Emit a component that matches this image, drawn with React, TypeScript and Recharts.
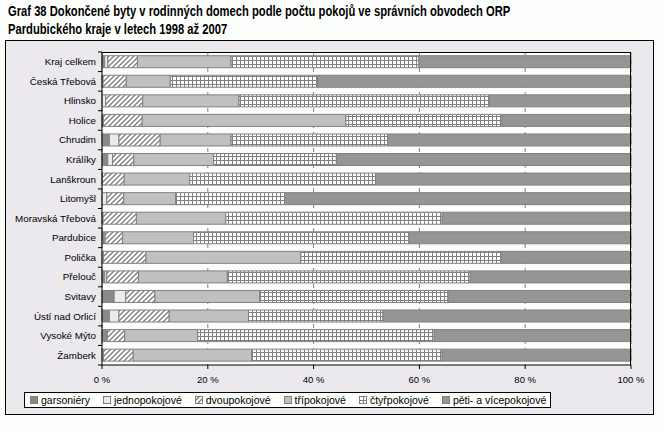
import { BarChart, Bar, XAxis, YAxis, CartesianGrid } from 'recharts'

const categories = [
  'Kraj celkem', 'Česká Třebová', 'Hlinsko', 'Holice', 'Chrudim', 'Králíky',
  'Lanškroun', 'Litomyšl', 'Moravská Třebová', 'Pardubice', 'Polička',
  'Přelouč', 'Svitavy', 'Ústí nad Orlicí', 'Vysoké Mýto', 'Žamberk',
]

// podíly v %
const garsoniery = [0.5, 0, 0, 0.2, 1.4, 1.1, 0.1, 0, 0.1, 0.4, 0, 0.5, 2.3, 1.4, 0.9, 0]
const jednopokojove = [0.6, 0.2, 0.7, 0.1, 1.8, 0.9, 0, 0.9, 0.1, 0.2, 0.3, 0.4, 2.2, 1.8, 0.1, 0.3]
const dvoupokojove = [5.6, 4.4, 7.0, 7.3, 7.8, 4.0, 4.1, 3.2, 6.3, 3.3, 8.0, 6.0, 5.5, 9.5, 3.3, 5.6]
const tripokojove = [17.7, 8.3, 18.2, 38.5, 13.4, 15.1, 12.4, 9.8, 16.9, 13.4, 29.3, 16.8, 19.8, 15.0, 13.8, 22.4]
const ctyrpokojove = [35.5, 27.8, 47.3, 29.5, 29.6, 23.2, 35.1, 20.6, 40.9, 40.7, 38.0, 45.9, 35.6, 25.4, 44.7, 36.0]
const petiVice = [40.1, 59.3, 26.8, 24.4, 46.0, 55.7, 48.3, 65.5, 35.7, 42.0, 24.4, 30.4, 34.6, 46.9, 37.2, 35.7]

const xTicks = [0, 20, 40, 60, 80, 100]

const series = [
  { key: 'g', name: 'garsoniéry', values: garsoniery, fill: '#898989' },
  { key: 'j', name: 'jednopokojové', values: jednopokojove, fill: '#ECEAF0' },
  { key: 'd', name: 'dvoupokojové', values: dvoupokojove, fill: 'url(#hatch)' },
  { key: 't', name: 'třípokojové', values: tripokojove, fill: '#C0C0C0' },
  { key: 'c', name: 'čtyřpokojové', values: ctyrpokojove, fill: 'url(#grid)' },
  { key: 'p', name: 'pěti- a vícepokojové', values: petiVice, fill: '#959693' },
]

const data = categories.map((name, i) => {
  const row: Record<string, string | number> = { name }
  series.forEach((s) => { row[s.key] = s.values[i] })
  return row
})

const FONT = "'Liberation Sans', Arial, sans-serif"
const PAGE_BG = '#FCFEFB'
const FRAME_BG = '#EBE9ED'
const EDGE = '#808080'

const M_TOP = 52
const M_BOTTOM = 47
const X_AXIS_H = 20
const PLOT_H = 432 - M_TOP - M_BOTTOM - X_AXIS_H
const STEP = PLOT_H / categories.length

function Patterns({ suffix = '' }: { suffix?: string }) {
  return (
    <defs>
      <pattern id={'hatch' + suffix} patternUnits="userSpaceOnUse" width="5" height="5">
        <rect width="5" height="5" fill="#fff" />
        <path d="M-1,1 l2,-2 M0,5 l5,-5 M4,6 l2,-2" stroke={EDGE} strokeWidth="1.4" />
      </pattern>
      <pattern id={'grid' + suffix} patternUnits="userSpaceOnUse" width="4" height="4">
        <rect width="4" height="4" fill={EDGE} />
        <rect x="1" y="1" width="3" height="3" fill="#fff" />
      </pattern>
    </defs>
  )
}

function CategoryTick(props: any) {
  const { x, y, payload, index } = props
  const ax = x + 6
  return (
    <g>
      <text x={x} y={y} dy="0.35em" textAnchor="end" fontSize={9.8} fontFamily={FONT} fill="#000">
        {payload.value}
      </text>
      <line x1={ax - 4} x2={ax} y1={y + STEP / 2} y2={y + STEP / 2} stroke="#000" />
      {index === 0 && <line x1={ax - 4} x2={ax} y1={y - STEP / 2} y2={y - STEP / 2} stroke="#000" />}
    </g>
  )
}

function Legend() {
  return (
    <div style={{
      position: 'absolute', left: 24, top: 392, height: 14, padding: '0 4px 0 5px',
      border: '1px solid #000', background: PAGE_BG, display: 'flex', alignItems: 'center',
      fontFamily: FONT, fontSize: 10.5, whiteSpace: 'nowrap',
    }}>
      {series.map((s, i) => (
        <div key={s.key} style={{ display: 'flex', alignItems: 'center', marginLeft: i ? 13 : 0 }}>
          <svg width={8} height={8} style={{ marginRight: 3 }}>
            <Patterns suffix="L" />
            <rect x={0.5} y={0.5} width={7} height={7}
              fill={s.fill.startsWith('url') ? s.fill.replace(')', 'L)') : s.fill} stroke={EDGE} />
          </svg>
          <span>{s.name}</span>
        </div>
      ))}
    </div>
  )
}

export default function App() {
  return (
    <div style={{ position: 'absolute', left: 0, top: 0, width: 664, height: 432, background: PAGE_BG, overflow: 'hidden' }}>
      <div style={{
        position: 'absolute', left: 8, top: 2, fontFamily: FONT,
        fontWeight: 'bold', fontSize: 14, lineHeight: '18px', color: '#000',
        transform: 'scaleX(0.8)', transformOrigin: '0 0', whiteSpace: 'nowrap',
      }}>
        Graf 38 Dokončené byty v rodinných domech podle počtu pokojů ve správních obvodech ORP<br />
        Pardubického kraje v letech 1998 až 2007
      </div>
      <div style={{
        position: 'absolute', left: 5, top: 40, width: 647, height: 373,
        border: '1px solid #000', background: FRAME_BG,
      }} />
      <div style={{ position: 'absolute', left: 0, top: 0 }}>
        <BarChart
          width={664}
          height={432}
          data={data}
          layout="vertical"
          barCategoryGap="19%"
          margin={{ top: M_TOP, right: 33, left: 0, bottom: M_BOTTOM }}
        >
          <Patterns />
          <CartesianGrid horizontal={false} strokeDasharray="4 4" stroke={EDGE} fill={PAGE_BG} />
          <XAxis
            type="number"
            domain={[0, 100]}
            ticks={xTicks}
            tickFormatter={(v) => `${v} %`}
            height={X_AXIS_H}
            tick={{ fontSize: 9.5, fill: '#000', fontFamily: FONT }}
            tickSize={4}
            tickMargin={7}
            axisLine={{ stroke: '#000' }}
            tickLine={{ stroke: '#000' }}
          />
          <YAxis
            type="category"
            dataKey="name"
            width={102}
            tick={<CategoryTick />}
            tickSize={0}
            tickMargin={6}
            interval={0}
            axisLine={{ stroke: '#000' }}
            tickLine={false}
          />
          {series.map((s) => (
            <Bar key={s.key} dataKey={s.key} name={s.name} stackId="a" fill={s.fill}
              stroke={EDGE} strokeWidth={1} isAnimationActive={false} />
          ))}
        </BarChart>
      </div>
      <div style={{
        position: 'absolute', left: 102, top: M_TOP, width: 529, height: PLOT_H,
        borderTop: '1px solid #000', borderRight: '1px solid #000', pointerEvents: 'none',
        boxSizing: 'border-box', marginTop: -0.5,
      }} />
      <Legend />
    </div>
  )
}
